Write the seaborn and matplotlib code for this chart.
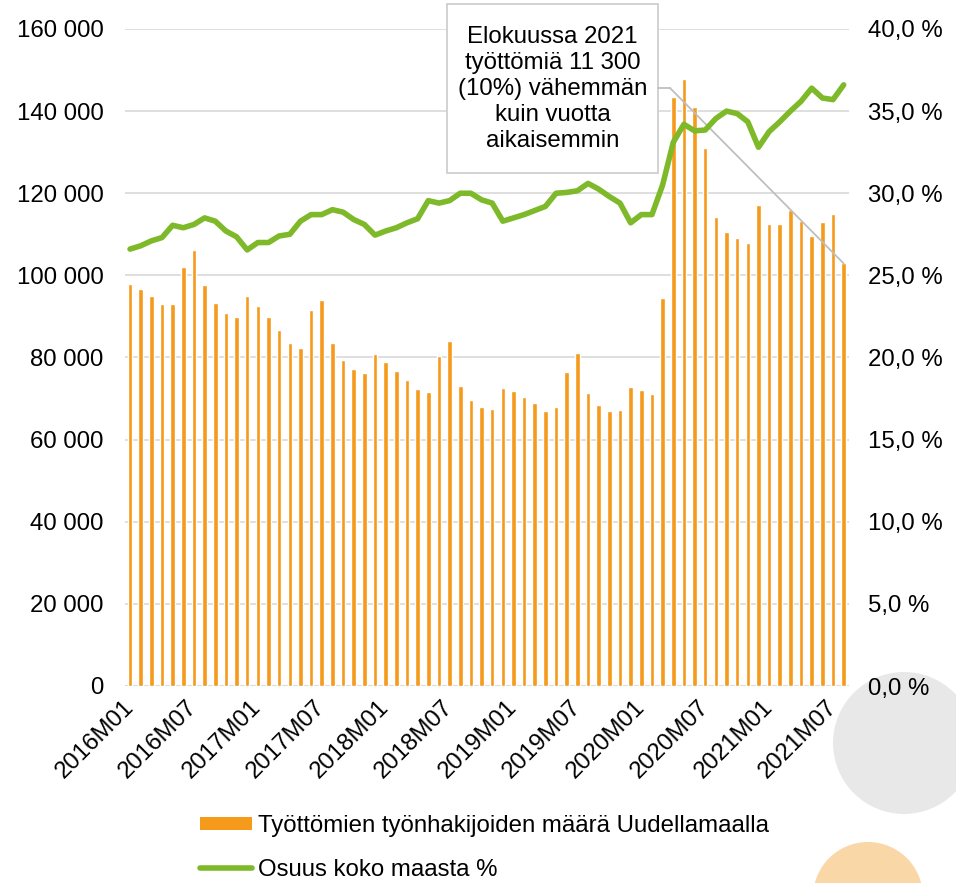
import numpy as np
import pandas as pd
import matplotlib
matplotlib.use("Agg")
import matplotlib.pyplot as plt
import seaborn as sns
from matplotlib.patches import Rectangle, Circle
from matplotlib.lines import Line2D
from matplotlib.patches import Patch
from matplotlib.ticker import FuncFormatter

# ---- data ----
months = [f"{y}M{m:02d}" for y in range(2016, 2022) for m in range(1, 13)][:68]

unemployed = [
    97900, 96600, 95000, 93050, 93050, 102150, 106300, 97600, 93200, 90950, 89800, 95000,
    92650, 89800, 86700, 83550, 82350, 91500, 94000, 83600, 79500, 77300, 76300, 80900,
    78900, 76800, 74450, 72350, 71550, 80400, 83950, 73100, 69750, 68050, 67400, 72500,
    71800, 70400, 68950, 66900, 67950, 76400, 81100, 71300, 68400, 67000, 67150, 72750,
    72100, 71000, 94500, 143400, 147800, 140900, 131000, 114250, 110600, 109050, 108000, 117200,
    112450, 112400, 115950, 113200, 109600, 113100, 115000, 102900,
]

share_pct = [
    26.6, 26.8, 27.1, 27.3, 28.05, 27.9, 28.1, 28.5, 28.3, 27.7, 27.35, 26.55,
    27.0, 27.0, 27.4, 27.5, 28.3, 28.7, 28.7, 29.0, 28.85, 28.4, 28.1, 27.45,
    27.7, 27.9, 28.2, 28.45, 29.55, 29.4, 29.55, 30.0, 30.0, 29.6, 29.4, 28.3,
    28.5, 28.7, 28.95, 29.2, 30.0, 30.05, 30.15, 30.6, 30.25, 29.8, 29.4, 28.2,
    28.7, 28.7, 30.5, 33.1, 34.2, 33.8, 33.85, 34.55, 35.0, 34.85, 34.35, 32.8,
    33.75, 34.35, 35.0, 35.6, 36.4, 35.8, 35.7, 36.6,
]

bar_label = "Työttömien työnhakijoiden määrä Uudellamaalla"
line_label = "Osuus koko maasta %"
note_text = "Elokuussa 2021\ntyöttömiä 11 300\n(10%) vähemmän\nkuin vuotta\naikaisemmin"

df = pd.DataFrame({"month": months, "unemployed": unemployed, "share": share_pct})
df["pos"] = np.arange(len(df))

# ---- style ----
sns.set_style("white")
plt.rcParams["font.family"] = ["Liberation Sans", "DejaVu Sans"]
plt.rcParams["text.color"] = "black"
plt.rcParams["xtick.color"] = "black"
plt.rcParams["ytick.color"] = "black"
plt.rcParams["xtick.labelcolor"] = "black"
plt.rcParams["ytick.labelcolor"] = "black"
FS = 17.3
ORANGE = "#F59A1B"
GREEN = "#7DB928"
GRID = "#D9D9D9"

W, H = 956, 883
fig = plt.figure(figsize=(W / 100, H / 100), dpi=100)

# decorative circles (slide background)
fig.add_artist(Circle((904 / 100, (H - 743) / 100), 0.71, transform=fig.dpi_scale_trans,
                      facecolor="#E8E8E8", edgecolor="none", zorder=-5))
fig.add_artist(Circle((868 / 100, (H - 897) / 100), 0.55, transform=fig.dpi_scale_trans,
                      facecolor="#F9D7A6", edgecolor="none", zorder=-5))

left, right, top, bottom = 124.7, 849, 29, 686
ax = fig.add_axes([left / W, 1 - bottom / H, (right - left) / W, (bottom - top) / H])
ax.patch.set_visible(False)

sns.barplot(data=df, x="month", y="unemployed", color=ORANGE, width=0.43,
            saturation=1, ax=ax, zorder=2)
ax.set_xlim(-0.5, len(df) - 0.5)
ax.set_ylim(0, 160000)
ax.set_yticks(np.arange(0, 160001, 20000))
ax.yaxis.set_major_formatter(FuncFormatter(lambda v, p: f"{int(v):,}".replace(",", " ")))
ax.grid(axis="y", color=GRID, lw=1.2, zorder=0)
ax.set_axisbelow(True)
for s in ax.spines.values():
    s.set_visible(False)
ax.axhline(0, color=GRID, lw=1.5, zorder=1)
ax.set_xlabel("")
ax.set_ylabel("")
ticks = list(range(0, len(df), 6))
ax.set_xticks(ticks)
ax.set_xticklabels([months[i] for i in ticks], rotation=45, ha="right", va="center",
                   rotation_mode="anchor", fontsize=FS, color="black")
ax.tick_params(axis="x", length=0, pad=13)
ax.tick_params(axis="y", length=0, pad=15, labelsize=FS, labelcolor="black")

ax2 = ax.twinx()
ax2.patch.set_visible(False)
sns.lineplot(data=df, x="pos", y="share", color=GREEN, lw=4.0, ax=ax2, zorder=3,
             solid_capstyle="round", solid_joinstyle="round")
ax2.set_ylim(0, 40)
ax2.set_yticks(np.arange(0, 40.1, 5))
ax2.yaxis.set_major_formatter(FuncFormatter(lambda v, p: f"{v:.1f} %".replace(".", ",")))
ax2.tick_params(axis="y", length=0, pad=14, labelsize=FS, labelcolor="black")
for s in ax2.spines.values():
    s.set_visible(False)
ax2.set_xlabel("")
ax2.set_ylabel("")
ax2.set_xlim(-0.5, len(df) - 0.5)

# annotation box and connector
bx0, bx1, by0, by1 = 447, 658, 4, 173
fig.add_artist(Rectangle((bx0 / W, 1 - by1 / H), (bx1 - bx0) / W, (by1 - by0) / H,
                         transform=fig.transFigure, facecolor="white",
                         edgecolor="#CFCFCF", lw=1.3, zorder=5))
fig.text((bx0 + bx1) / 2 / W, 1 - 89 / H, note_text, ha="center", va="center",
         fontsize=FS, linespacing=1.24, zorder=6, color="black")
fig.add_artist(Line2D([bx1 / W, 670 / W], [1 - 88 / H, 1 - 88 / H],
                      transform=fig.transFigure, color="#BFBFBF", lw=1.3, zorder=5))
ax.annotate("", xy=(len(df) - 1, unemployed[-1]), xycoords="data",
            xytext=(670 / W, 1 - 88 / H), textcoords="figure fraction",
            arrowprops=dict(arrowstyle="-", color="#BFBFBF", lw=1.3,
                            shrinkA=0, shrinkB=0), zorder=5)

# legend
handles = [Patch(facecolor=ORANGE, edgecolor="none", label=bar_label),
           Line2D([0], [0], color=GREEN, lw=4.0, label=line_label)]
fig.legend(handles=handles, loc="upper left", bbox_to_anchor=(200 / W, 1 - 815 / H),
           frameon=False, fontsize=FS, handlelength=2.15, handleheight=0.5,
           handletextpad=0.25, labelspacing=0.9, borderaxespad=0, borderpad=0,
           labelcolor="black")

fig.savefig("out.png", dpi=100)
